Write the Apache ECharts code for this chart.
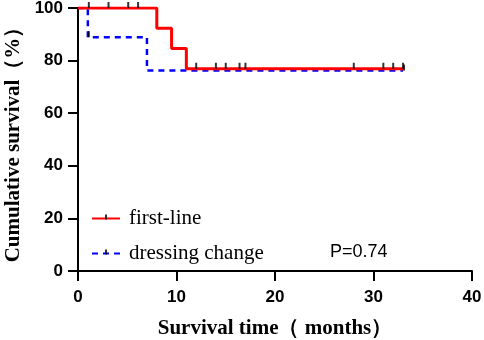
<!DOCTYPE html>
<html>
<head>
<meta charset="utf-8">
<script src="https://cdn.jsdelivr.net/npm/echarts@6/dist/echarts.min.js"></script>
<style>
  html, body { margin: 0; padding: 0; background: #fff; }
  #chart { width: 484px; height: 340px; }
</style>
</head>
<body>
<div id="chart"></div>
<script>
// Kaplan-Meier steps [time, survival %]
var firstLine = [[0, 100], [8, 92.3], [9.5, 84.6], [11, 76.9], [33, 76.9]]
var dressing = [[0, 100], [1, 88.9], [7, 76.2], [33, 76.2]]
// censored observations
var firstLineCensor = [[1.1, 100], [3.1, 100], [5.1, 100], [6.1, 100],
  [12, 76.9], [14, 76.9], [15, 76.9], [16.4, 76.9], [17, 76.9],
  [28, 76.9], [31, 76.9], [32, 76.9], [33, 76.9]]
var dressingCensor = [[1.1, 88.9], [33.1, 76.2]]
var xTicks = [0, 10, 20, 30, 40]
var yTicks = [0, 20, 40, 60, 80, 100]

var chart = echarts.init(document.getElementById('chart'))

// little vertical censor tick, padded so it sits above the line in the legend
var tickPath = 'path://M0,0M8,8M3.2,0H4.8V5H3.2Z'

var tickMark = {
  type: 'scatter',
  symbol: 'rect',
  symbolSize: [2, 6],
  symbolOffset: [0, -3],
  itemStyle: { color: '#000' },
  silent: true,
  z: 5
}

var option = {
  animation: false,
  grid: { left: 78, right: 12, top: 8, bottom: 69, outerBoundsMode: 'none' },
  legend: {
    orient: 'vertical',
    left: 86,
    top: 203,
    itemGap: 14,
    itemWidth: 28,
    itemHeight: 10,
    itemStyle: { color: '#000', borderWidth: 0 },
    data: ['first-line', 'dressing change'],
    textStyle: { fontFamily: 'Liberation Serif', fontSize: 21, color: '#000', padding: [0, 0, 0, 4] }
  },
  xAxis: {
    type: 'value',
    min: xTicks[0],
    max: xTicks[xTicks.length - 1],
    interval: 10,
    name: 'Survival time（ months）',
    nameLocation: 'middle',
    nameGap: 47,
    nameTextStyle: { fontFamily: 'Liberation Serif', fontWeight: 'bold', fontSize: 21, color: '#000' },
    axisLine: { lineStyle: { color: '#000', width: 2 } },
    axisTick: { length: 10, lineStyle: { color: '#000', width: 2 } },
    axisLabel: { fontFamily: 'Liberation Sans', fontWeight: 'bold', fontSize: 17, color: '#000', margin: 18 },
    splitLine: { show: false }
  },
  yAxis: {
    type: 'value',
    min: yTicks[0],
    max: yTicks[yTicks.length - 1],
    interval: 20,
    name: 'Cumulative survival（%）',
    nameLocation: 'middle',
    nameGap: 50,
    nameTextStyle: { fontFamily: 'Liberation Serif', fontWeight: 'bold', fontSize: 21, color: '#000' },
    axisLine: { show: true, lineStyle: { color: '#000', width: 2 } },
    axisTick: { show: true, length: 10, lineStyle: { color: '#000', width: 2 } },
    axisLabel: { fontFamily: 'Liberation Sans', fontWeight: 'bold', fontSize: 17, color: '#000', margin: 15 },
    splitLine: { show: false }
  },
  graphic: [{
    type: 'text',
    left: 330,
    top: 243,
    style: { text: 'P=0.74', fontFamily: 'Liberation Sans', fontSize: 18, fill: '#000' }
  }],
  series: [
    {
      name: 'first-line',
      type: 'line',
      step: 'end',
      symbol: tickPath,
      showSymbol: false,
      lineStyle: { color: '#ff0000', width: 3 },
      itemStyle: { color: '#ff0000' },
      data: firstLine,
      z: 3
    },
    {
      name: 'dressing change',
      type: 'line',
      step: 'end',
      symbol: tickPath,
      showSymbol: false,
      lineStyle: { color: '#0000ff', width: 2.5, type: [6, 5] },
      itemStyle: { color: '#0000ff' },
      data: dressing,
      z: 2
    },
    Object.assign({ name: 'first-line censor', data: firstLineCensor }, tickMark),
    Object.assign({ name: 'dressing censor', data: dressingCensor }, tickMark)
  ]
}
chart.setOption(option)
</script>
</body>
</html>
